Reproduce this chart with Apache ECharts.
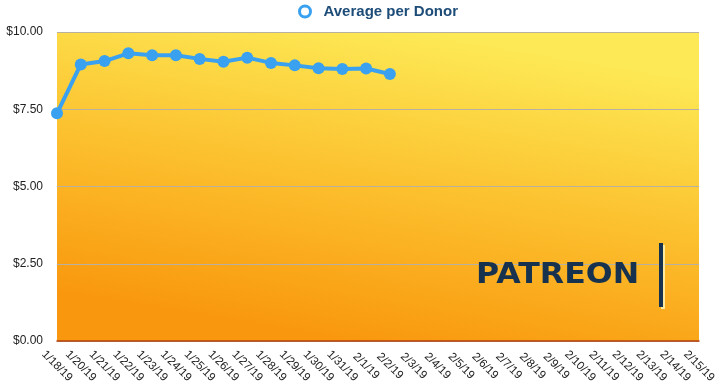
<!DOCTYPE html>
<html><head><meta charset="utf-8">
<script src="https://cdn.jsdelivr.net/npm/echarts@6/dist/echarts.min.js"></script>
<style>html,body{margin:0;padding:0;background:#fff}#c{width:720px;height:391px}</style>
</head><body><div id="c"></div>
<script>
const categories = ['1/18/19','1/20/19','1/21/19','1/22/19','1/23/19','1/24/19','1/25/19','1/26/19','1/27/19','1/28/19','1/29/19','1/30/19','1/31/19','2/1/19','2/2/19','2/3/19','2/4/19','2/5/19','2/6/19','2/7/19','2/8/19','2/9/19','2/10/19','2/11/19','2/12/19','2/13/19','2/14/19','2/15/19'];
const avgPerDonor = [7.37, 8.95, 9.06, 9.31, 9.25, 9.25, 9.13, 9.04, 9.17, 9.00, 8.92, 8.83, 8.80, 8.82, 8.64];
const yTicks = [0, 2.5, 5, 7.5, 10];

const chart = echarts.init(document.getElementById('c'));
chart.setOption({
  animation: false,
  textStyle: { fontFamily: 'Liberation Sans, Arial, sans-serif' },
  legend: {
    top: 4, left: 298, padding: 0,
    icon: 'circle', itemWidth: 11, itemHeight: 11,
    itemStyle: { color: '#ffffff', borderColor: '#3aa1f0', borderWidth: 3 },
    textStyle: { color: '#1e4c78', fontWeight: 'bold', fontSize: 15, padding: [0, 0, 0, 8] },
    data: ['Average per Donor']
  },
  grid: {
    left: 57, right: 21, top: 32, bottom: 50,
    outerBoundsMode: 'none',
    show: true, borderWidth: 0,
    backgroundColor: new echarts.graphic.LinearGradient(0.47, 1, 0.55, 0, [
      { offset: 0, color: '#f9980e' },
      { offset: 0.5, color: '#fcc02e' },
      { offset: 1, color: '#fde955' }
    ])
  },
  xAxis: {
    type: 'category', data: categories, boundaryGap: false,
    axisLine: { lineStyle: { color: '#b5400f', width: 1.5 } },
    axisTick: { show: false },
    axisLabel: { rotate: -45, interval: 0, color: '#222', fontSize: 11.5, margin: 25,
      align: 'center', verticalAlign: 'middle' }
  },
  yAxis: {
    type: 'value', min: 0, max: 10, interval: 2.5,
    axisLine: { show: false }, axisTick: { show: false },
    splitLine: { lineStyle: { color: '#b8b0a0', width: 1 } },
    axisLabel: { color: '#222', fontSize: 12, margin: 14,
      formatter: v => yTicks.includes(v) ? '$' + v.toFixed(2) : '' }
  },
  series: [{
    name: 'Average per Donor', type: 'line', data: avgPerDonor,
    symbol: 'circle', symbolSize: 12,
    lineStyle: { color: '#3aa1f0', width: 4 },
    itemStyle: { color: '#3aa1f0' }
  }],
  graphic: [
    { type: 'text', x: 476, y: 261, scaleX: 1.09, z: 100,
      style: { text: 'PATREON', fill: '#16324f', font: 'bold 29px "DejaVu Sans", sans-serif',
        shadowColor: 'rgba(255,240,170,0.9)', shadowOffsetX: 2, shadowOffsetY: 2, shadowBlur: 0 } },
    { type: 'rect', left: 659, top: 243, z: 100,
      shape: { width: 4, height: 64 },
      style: { fill: '#16324f', shadowColor: 'rgba(255,240,170,0.9)', shadowOffsetX: 2, shadowOffsetY: 2 } }
  ]
});
</script></body></html>
